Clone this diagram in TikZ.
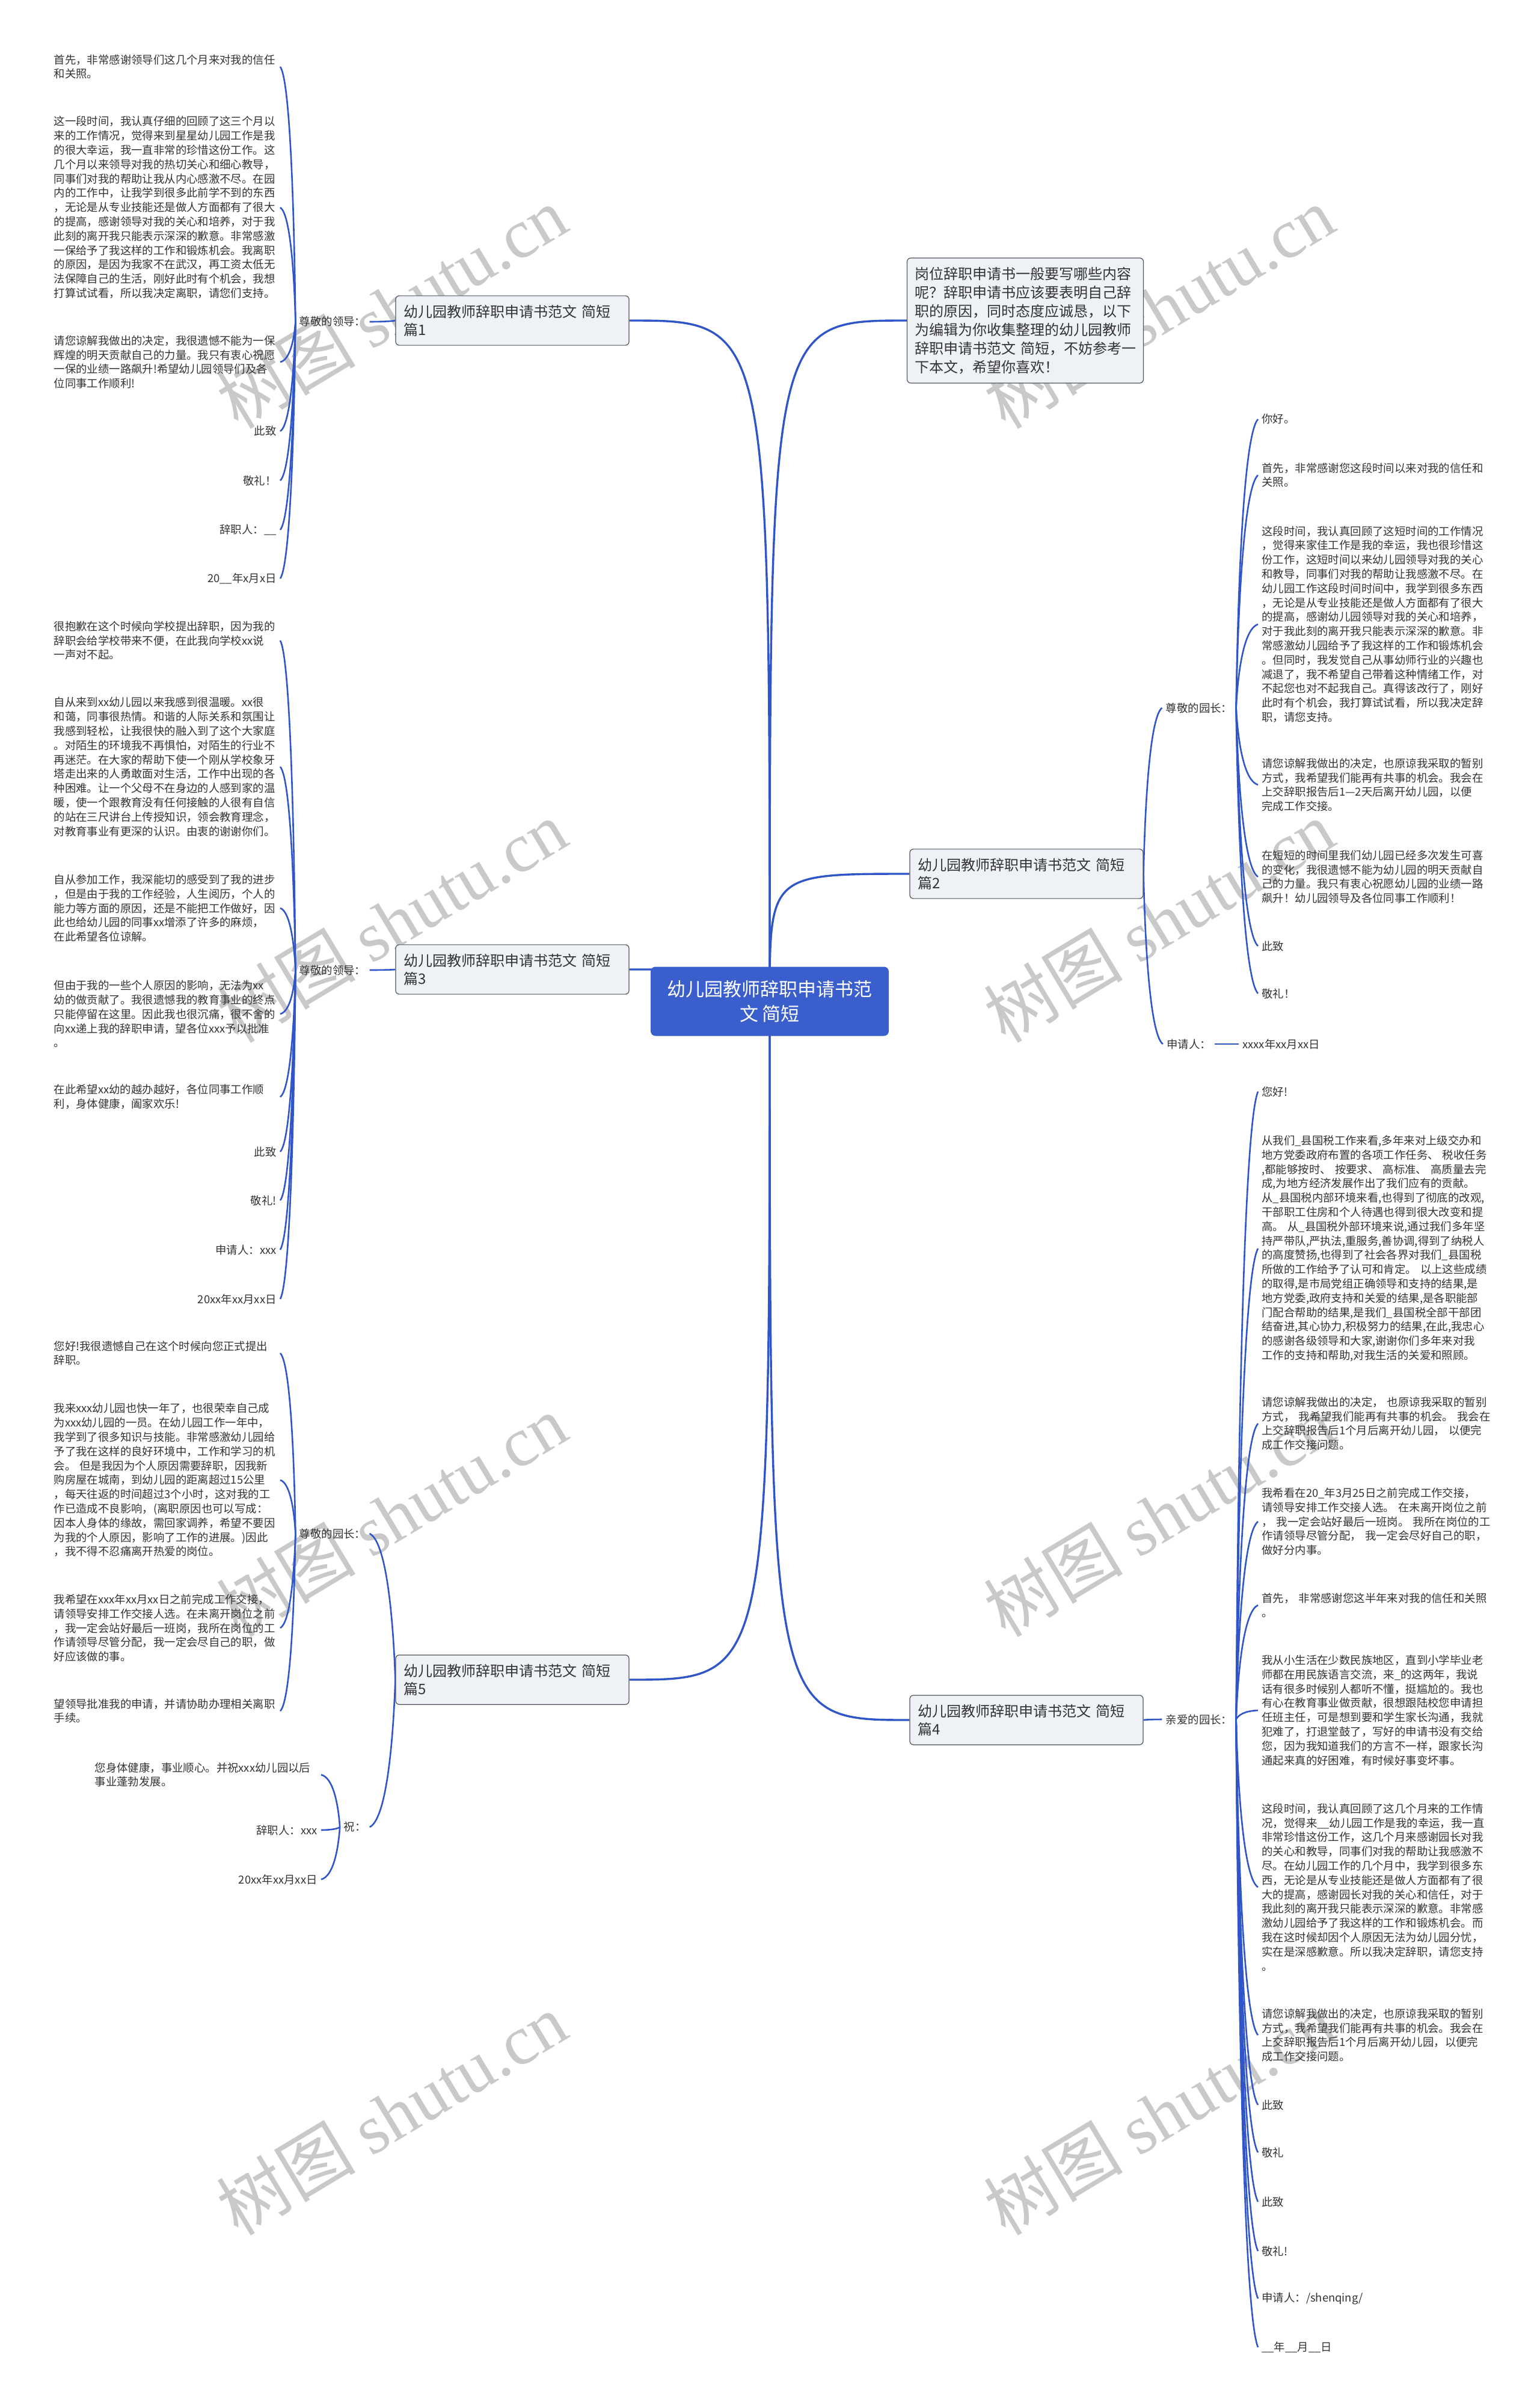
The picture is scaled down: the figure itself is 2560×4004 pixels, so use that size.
\documentclass[tikz,border=0pt]{standalone}
\usepackage{fontspec}
\setmainfont{Noto Sans CJK SC}
\newfontfamily\wmlatin{Liberation Serif}
\usetikzlibrary{calc,backgrounds}
\definecolor{linkc}{HTML}{2F55C9}
\definecolor{ctfill}{HTML}{3A5FCD}
\definecolor{brfill}{HTML}{EEF1F5}
\definecolor{brdraw}{HTML}{50545C}
\definecolor{txtc}{HTML}{333333}
\definecolor{wmc}{HTML}{C9C9C9}
\newcommand\lffont{\fontsize{9.2pt}{11.9pt}\selectfont}
\newcommand\brfont{\fontsize{12pt}{15pt}\selectfont}
\newcommand\infont{\fontsize{12pt}{15.5pt}\selectfont}
\newcommand\ctfont{\fontsize{15.5pt}{20.5pt}\selectfont}
\newcommand\lk[3][leaflink]{\draw[#1] let \p1=(#2), \p2=(#3) in (\p1) .. controls ({\x1+0.1*(\x2-\x1)},{\y1+0.5*(\y2-\y1)}) and ({\x2-0.6*(\x2-\x1)},{\y2-0.05*(\y2-\y1)}) .. (\p2);}
\newcommand\mk[2]{\draw[mainlink] (#1) .. controls (#1 |- #2) .. (#2);}
\begin{document}
\begin{tikzpicture}[x=0.5pt,y=-0.5pt,
 leafL/.style={anchor=east,text width=185pt,align=left,inner xsep=3pt,inner ysep=0pt,font=\lffont,text=txtc},
 leafLr/.style={leafL,align=right},
 leafR/.style={anchor=west,text width=185pt,align=left,inner xsep=3pt,inner ysep=0pt,font=\lffont,text=txtc},
 lab/.style={inner xsep=3pt,inner ysep=1pt,font=\lffont,text=txtc},
 branch/.style={draw=brdraw,fill=brfill,rounded corners=3pt,line width=0.6pt,text width=181pt,align=left,inner xsep=6.5pt,inner ysep=7.5pt,font=\brfont,text=txtc},
 intro/.style={branch,text width=183.5pt,inner ysep=7.5pt,font=\infont},
 central/.style={fill=ctfill,rounded corners=4pt,minimum width=198pt,minimum height=57.5pt,align=center,font=\ctfont,text=white},
 mainlink/.style={draw=linkc,line width=1.7pt},
 leaflink/.style={draw=linkc,line width=1.3pt},
 wm/.style={rotate=31,text=wmc,font=\fontsize{58pt}{60pt}\selectfont,inner sep=0pt}
]
\useasboundingbox (0,0) rectangle (2560,4004);
% ---------- main nodes ----------
\node[central] (c) at (1280,1665) {幼儿园教师辞职申请书范\\文~简短};
\node[intro] (intro) at (1705,533) {岗位辞职申请书一般要写哪些内容\\呢？辞职申请书应该要表明自己辞\\职的原因，同时态度应诚恳，以下\\为编辑为你收集整理的幼儿园教师\\辞职申请书范文~简短，不妨参考一\\下本文，希望你喜欢！};
\node[branch] (b1) at (852,533) {幼儿园教师辞职申请书范文~简短\\篇1};
\node[branch] (b3) at (852,1612) {幼儿园教师辞职申请书范文~简短\\篇3};
\node[branch] (b5) at (852,2793) {幼儿园教师辞职申请书范文~简短\\篇5};
\node[branch] (b2) at (1707,1453) {幼儿园教师辞职申请书范文~简短\\篇2};
\node[branch] (b4) at (1707,2860) {幼儿园教师辞职申请书范文~简短\\篇4};
% ---------- labels ----------
\node[lab] (la1) at (553,535) {尊敬的领导：};
\node[lab] (la3) at (553,1613) {尊敬的领导：};
\node[lab] (la5) at (553,2550) {尊敬的园长：};
\node[lab] (lz) at (590,3038) {祝：};
\node[lab] (ra2) at (1994,1177) {尊敬的园长：};
\node[lab] (rb2) at (1977,1736) {申请人：};
\node[lab,anchor=west] (rd2) at (2060,1736) {xxxx年xx月xx日};
\node[lab] (ra4) at (1994,2859) {亲爱的园长：};
% ---------- 篇1 leaves ----------
\node[leafL] (l1a) at (466,111) {首先，非常感谢领导们这几个月来对我的信任\\和关照。};
\node[leafL] (l1b) at (466,345) {这一段时间，我认真仔细的回顾了这三个月以\\来的工作情况，觉得来到星星幼儿园工作是我\\的很大幸运，我一直非常的珍惜这份工作。这\\几个月以来领导对我的热切关心和细心教导，\\同事们对我的帮助让我从内心感激不尽。在园\\内的工作中，让我学到很多此前学不到的东西\\，无论是从专业技能还是做人方面都有了很大\\的提高，感谢领导对我的关心和培养，对于我\\此刻的离开我只能表示深深的歉意。非常感激\\一保给予了我这样的工作和锻炼机会。我离职\\的原因，是因为我家不在武汉，再工资太低无\\法保障自己的生活，刚好此时有个机会，我想\\打算试试看，所以我决定离职，请您们支持。};
\node[leafL] (l1c) at (466,602) {请您谅解我做出的决定，我很遗憾不能为一保\\辉煌的明天贡献自己的力量。我只有衷心祝愿\\一保的业绩一路飙升!希望幼儿园领导们及各\\位同事工作顺利!};
\node[leafLr] (l1d) at (466,717) {此致};
\node[leafLr] (l1e) at (466,799) {敬礼！};
\node[leafLr] (l1f) at (466,881) {辞职人：\_\_};
\node[leafLr] (l1g) at (466,962) {20\_\_年x月x日};
% ---------- 篇3 leaves ----------
\node[leafL] (l3a) at (466,1065) {很抱歉在这个时候向学校提出辞职，因为我的\\辞职会给学校带来不便，在此我向学校xx说\\一声对不起。};
\node[leafL] (l3b) at (466,1275) {自从来到xx幼儿园以来我感到很温暖。xx很\\和蔼，同事很热情。和谐的人际关系和氛围让\\我感到轻松，让我很快的融入到了这个大家庭\\。对陌生的环境我不再惧怕，对陌生的行业不\\再迷茫。在大家的帮助下使一个刚从学校象牙\\塔走出来的人勇敢面对生活，工作中出现的各\\种困难。让一个父母不在身边的人感到家的温\\暖，使一个跟教育没有任何接触的人很有自信\\的站在三尺讲台上传授知识，领会教育理念，\\对教育事业有更深的认识。由衷的谢谢你们。};
\node[leafL] (l3c) at (466,1510) {自从参加工作，我深能切的感受到了我的进步\\，但是由于我的工作经验，人生阅历，个人的\\能力等方面的原因，还是不能把工作做好，因\\此也给幼儿园的同事xx增添了许多的麻烦，\\在此希望各位谅解。};
\node[leafL] (l3d) at (466,1686) {但由于我的一些个人原因的影响，无法为xx\\幼的做贡献了。我很遗憾我的教育事业的终点\\只能停留在这里。因此我也很沉痛，很不舍的\\向xx递上我的辞职申请，望各位xxx予以批准\\。};
\node[leafL] (l3e) at (466,1824) {在此希望xx幼的越办越好，各位同事工作顺\\利，身体健康，阖家欢乐!};
\node[leafLr] (l3f) at (466,1915) {此致};
\node[leafLr] (l3g) at (466,1996) {敬礼!};
\node[leafLr] (l3h) at (466,2078) {申请人：xxx};
\node[leafLr] (l3i) at (466,2160) {20xx年xx月xx日};
% ---------- 篇5 leaves ----------
\node[leafL] (l5a) at (466,2250) {您好!我很遗憾自己在这个时候向您正式提出\\辞职。};
\node[leafL] (l5b) at (466,2461) {我来xxx幼儿园也快一年了，也很荣幸自己成\\为xxx幼儿园的一员。在幼儿园工作一年中，\\我学到了很多知识与技能。非常感激幼儿园给\\予了我在这样的良好环境中，工作和学习的机\\会。~但是我因为个人原因需要辞职，因我新\\购房屋在城南，到幼儿园的距离超过15公里\\，每天往返的时间超过3个小时，这对我的工\\作已造成不良影响，(离职原因也可以写成：\\因本人身体的缘故，需回家调养，希望不要因\\为我的个人原因，影响了工作的进展。)因此\\，我不得不忍痛离开热爱的岗位。};
\node[leafL] (l5c) at (466,2707) {我希望在xxx年xx月xx日之前完成工作交接，\\请领导安排工作交接人选。在未离开岗位之前\\，我一定会站好最后一班岗，我所在岗位的工\\作请领导尽管分配，我一定会尽自己的职，做\\好应该做的事。};
\node[leafL] (l5d) at (466,2845) {望领导批准我的申请，并请协助办理相关离职\\手续。};
\node[leafL] (z1) at (534,2951) {您身体健康，事业顺心。并祝xxx幼儿园以后\\事业蓬勃发展。};
\node[leafLr] (z2) at (534,3043) {辞职人：xxx};
\node[leafLr] (z3) at (534,3125) {20xx年xx月xx日};
% ---------- 篇2 leaves ----------
\node[leafR] (r2a) at (2092,697) {你好。};
\node[leafR] (r2b) at (2092,790) {首先，非常感谢您这段时间以来对我的信任和\\关照。};
\node[leafR] (r2c) at (2092,1038) {这段时间，我认真回顾了这短时间的工作情况\\，觉得来家佳工作是我的幸运，我也很珍惜这\\份工作，这短时间以来幼儿园领导对我的关心\\和教导，同事们对我的帮助让我感激不尽。在\\幼儿园工作这段时间时间中，我学到很多东西\\，无论是从专业技能还是做人方面都有了很大\\的提高，感谢幼儿园领导对我的关心和培养，\\对于我此刻的离开我只能表示深深的歉意。非\\常感激幼儿园给予了我这样的工作和锻炼机会\\。但同时，我发觉自己从事幼师行业的兴趣也\\减退了，我不希望自己带着这种情绪工作，对\\不起您也对不起我自己。真得该改行了，刚好\\此时有个机会，我打算试试看，所以我决定辞\\职，请您支持。};
\node[leafR] (r2d) at (2092,1305) {请您谅解我做出的决定，也原谅我采取的暂别\\方式，我希望我们能再有共事的机会。我会在\\上交辞职报告后1—2天后离开幼儿园，以便\\完成工作交接。};
\node[leafR] (r2e) at (2092,1458) {在短短的时间里我们幼儿园已经多次发生可喜\\的变化，我很遗憾不能为幼儿园的明天贡献自\\己的力量。我只有衷心祝愿幼儿园的业绩一路\\飙升！幼儿园领导及各位同事工作顺利！};
\node[leafR] (r2f) at (2092,1573) {此致};
\node[leafR] (r2g) at (2092,1652) {敬礼！};
% ---------- 篇4 leaves ----------
\node[leafR] (r4a) at (2092,1815) {您好!};
\node[leafR] (r4b) at (2092,2076) {从我们\_县国税工作来看,多年来对上级交办和\\地方党委政府布置的各项工作任务、~税收任务\\,都能够按时、~按要求、~高标准、~高质量去完\\成,为地方经济发展作出了我们应有的贡献。\\从\_县国税内部环境来看,也得到了彻底的改观,\\干部职工住房和个人待遇也得到很大改变和提\\高。~从\_县国税外部环境来说,通过我们多年坚\\持严带队,严执法,重服务,善协调,得到了纳税人\\的高度赞扬,也得到了社会各界对我们\_县国税\\所做的工作给予了认可和肯定。~以上这些成绩\\的取得,是市局党组正确领导和支持的结果,是\\地方党委,政府支持和关爱的结果,是各职能部\\门配合帮助的结果,是我们\_县国税全部干部团\\结奋进,其心协力,积极努力的结果,在此,我忠心\\的感谢各级领导和大家,谢谢你们多年来对我\\工作的支持和帮助,对我生活的关爱和照顾。};
\node[leafR] (r4c) at (2092,2367) {请您谅解我做出的决定，~也原谅我采取的暂别\\方式，~我希望我们能再有共事的机会。~我会在\\上交辞职报告后1个月后离开幼儿园，~以便完\\成工作交接问题。};
\node[leafR] (r4d) at (2092,2530) {我希看在20\_年3月25日之前完成工作交接，\\请领导安排工作交接人选。~在未离开岗位之前\\，~我一定会站好最后一班岗。~我所在岗位的工\\作请领导尽管分配，~我一定会尽好自己的职，\\做好分内事。};
\node[leafR] (r4e) at (2092,2669) {首先，~非常感谢您这半年来对我的信任和关照\\。};
\node[leafR] (r4f) at (2092,2844) {我从小生活在少数民族地区，直到小学毕业老\\师都在用民族语言交流，来\_的这两年，我说\\话有很多时候别人都听不懂，挺尴尬的。我也\\有心在教育事业做贡献，很想跟陆校您申请担\\任班主任，可是想到要和学生家长沟通，我就\\犯难了，打退堂鼓了，写好的申请书没有交给\\您，因为我知道我们的方言不一样，跟家长沟\\通起来真的好困难，有时候好事变坏事。};
\node[leafR] (r4g) at (2092,3138) {这段时间，我认真回顾了这几个月来的工作情\\况，觉得来\_\_幼儿园工作是我的幸运，我一直\\非常珍惜这份工作，这几个月来感谢园长对我\\的关心和教导，同事们对我的帮助让我感激不\\尽。在幼儿园工作的几个月中，我学到很多东\\西，无论是从专业技能还是做人方面都有了很\\大的提高，感谢园长对我的关心和信任，对于\\我此刻的离开我只能表示深深的歉意。非常感\\激幼儿园给予了我这样的工作和锻炼机会。而\\我在这时候却因个人原因无法为幼儿园分忧，\\实在是深感歉意。所以我决定辞职，请您支持\\。};
\node[leafR] (r4h) at (2092,3384) {请您谅解我做出的决定，也原谅我采取的暂别\\方式，我希望我们能再有共事的机会。我会在\\上交辞职报告后1个月后离开幼儿园，以便完\\成工作交接问题。};
\node[leafR] (r4i) at (2092,3500) {此致};
\node[leafR] (r4j) at (2092,3579) {敬礼};
\node[leafR] (r4k) at (2092,3661) {此致};
\node[leafR] (r4l) at (2092,3743) {敬礼!};
\node[leafR] (r4m) at (2092,3822) {申请人：/shenqing/};
\node[leafR] (r4n) at (2092,3903) {\_\_年\_\_月\_\_日};
% ---------- background: fill, watermarks, connectors ----------
\begin{pgfonlayer}{background}
\fill[white] (0,0) rectangle (2560,4004);
\node[wm] (w1) at (651,511) {树图~{\wmlatin shutu.cn}};
\node[wm] (w2) at (1927,511) {树图~{\wmlatin shutu.cn}};
\node[wm] (w3) at (651,1532) {树图~{\wmlatin shutu.cn}};
\node[wm] (w4) at (1927,1532) {树图~{\wmlatin shutu.cn}};
\node[wm] (w5) at (651,2520) {树图~{\wmlatin shutu.cn}};
\node[wm] (w6) at (1927,2520) {树图~{\wmlatin shutu.cn}};
\node[wm] (w7) at (651,3515) {树图~{\wmlatin shutu.cn}};
\node[wm] (w8) at (1927,3515) {树图~{\wmlatin shutu.cn}};
\mk{c.center}{b1.east}
\mk{c.center}{intro.west}
\mk{c.center}{b3.east}
\mk{c.center}{b2.west}
\mk{c.center}{b5.east}
\mk{c.center}{b4.west}
\lk{b1.west}{la1.east}
\lk{b3.west}{la3.east}
\lk{b5.west}{la5.east}
\lk{b5.west}{lz.east}
\lk{b2.east}{ra2.west}
\lk{b2.east}{rb2.west}
\lk{rb2.east}{rd2.west}
\lk{b4.east}{ra4.west}
\foreach \q in {l1a,l1b,l1c,l1d,l1e,l1f,l1g}{\lk{la1.west}{\q.east}}
\foreach \q in {l3a,l3b,l3c,l3d,l3e,l3f,l3g,l3h,l3i}{\lk{la3.west}{\q.east}}
\foreach \q in {l5a,l5b,l5c,l5d}{\lk{la5.west}{\q.east}}
\foreach \q in {z1,z2,z3}{\lk{lz.west}{\q.east}}
\foreach \q in {r2a,r2b,r2c,r2d,r2e,r2f,r2g}{\lk{ra2.east}{\q.west}}
\foreach \q in {r4a,r4b,r4c,r4d,r4e,r4f,r4g,r4h,r4i,r4j,r4k,r4l,r4m,r4n}{\lk{ra4.east}{\q.west}}
\end{pgfonlayer}
\end{tikzpicture}
\end{document}
